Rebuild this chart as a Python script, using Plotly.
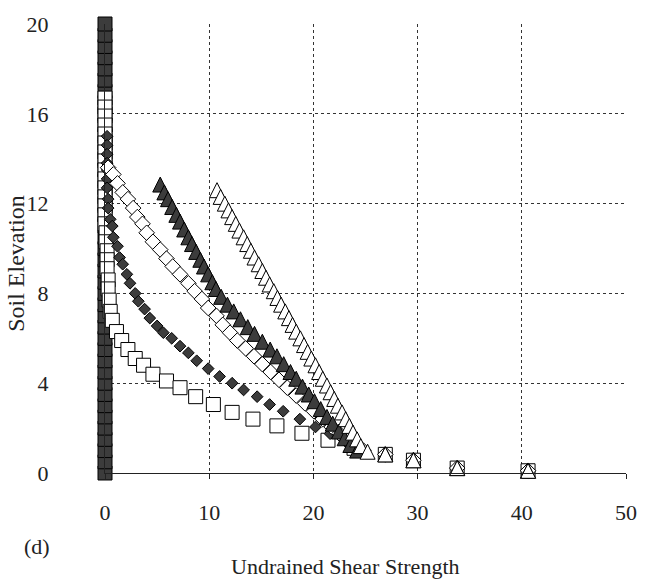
import plotly.graph_objects as go

# ---- data ----
col_x = [0, 0, 0, 0, 0, 0, 0, 0, 0, 0, 0, 0, 0, 0, 0, 0, 0, 0, 0, 0, 0,
         0, 0, 0, 0, 0, 0, 0, 0, 0, 0, 0, 0, 0, 0, 0, 0, 0, 0, 0, 0]
col_y = [0.0, 0.5, 1.0, 1.5, 2.0, 2.5, 3.0, 3.5, 4.0, 4.5, 5.0, 5.5, 6.0, 6.5,
         7.0, 7.5, 8.0, 8.5, 9.0, 9.5, 10.0, 10.5, 11.0, 11.5, 12.0, 12.5,
         13.0, 13.5, 14.0, 14.5, 15.0, 15.5, 16.0, 16.5, 17.0, 17.5, 18.0,
         18.5, 19.0, 19.5, 20.0]

osq_x = [0, 0, 0, 0, 0, 0, 0, 0, 0, 0, 0, 0, 0, 0, 0, 0.1, 0.1, 0.2, 0.2, 0.2,
         0.3, 0.3, 0.4, 0.5, 0.7, 1.1, 1.6, 2.2, 2.9, 3.7, 4.6, 5.9, 7.2, 8.7,
         10.4, 12.2, 14.2, 16.5, 18.9, 21.4, 23.9, 26.9, 29.6, 33.8, 40.6]
osq_y = [16.7, 16.3, 15.9, 15.5, 15.1, 14.7, 14.3, 13.9, 13.5, 13.1, 12.7, 12.3,
         11.9, 11.5, 11.1, 10.7, 10.3, 9.9, 9.5, 9.1, 8.6, 8.2, 7.7, 7.2, 6.8,
         6.3, 5.9, 5.5, 5.1, 4.8, 4.4, 4.1, 3.8, 3.4, 3.05, 2.7, 2.4, 2.1, 1.77,
         1.46, 1.1, 0.83, 0.57, 0.22, 0.1]

fdia_x = [0.2, 0.2, 0.2, 0.2, 0.2, 0.2, 0.2, 0.3, 0.3, 0.5, 0.7, 0.8, 1.2, 1.4,
          1.7, 2.1, 2.4, 2.9, 3.2, 3.8, 4.3, 5.0, 5.6, 6.4, 7.2, 8.0, 8.8, 9.9,
          11.0, 12.2, 13.3, 14.6, 15.8, 17.1, 18.7, 20.2, 21.6, 23.2, 24.8,
          26.9, 29.6, 33.8, 40.6]
fdia_y = [15.0, 14.6, 14.2, 13.8, 13.5, 13.1, 12.7, 12.2, 11.8, 11.3, 11.0, 10.5,
          10.1, 9.6, 9.3, 8.85, 8.45, 8.0, 7.65, 7.3, 6.9, 6.55, 6.25, 6.0, 5.65,
          5.35, 5.0, 4.65, 4.3, 4.0, 3.7, 3.4, 3.05, 2.75, 2.4, 2.05, 1.75, 1.35,
          1.0, 0.83, 0.57, 0.22, 0.1]

odia_x = [0.3, 0.8, 1.2, 1.7, 2.2, 2.7, 3.1, 3.6, 4.0, 4.6, 5.3, 5.9, 6.5, 7.2,
          8.0, 8.6, 9.3, 9.9, 10.7, 11.3, 12.0, 12.7, 13.5, 14.3, 15.1, 15.9,
          16.7, 17.5, 18.35, 19.2, 20.05, 20.9, 21.75, 22.5, 23.25, 23.9, 24.8,
          26.9, 29.6, 33.8, 40.6]
odia_y = [13.6, 13.3, 12.9, 12.5, 12.2, 11.8, 11.4, 11.1, 10.7, 10.3, 9.95, 9.55,
          9.2, 8.85, 8.45, 8.1, 7.75, 7.35, 7.0, 6.6, 6.25, 5.9, 5.55, 5.2, 4.85,
          4.5, 4.15, 3.8, 3.45, 3.1, 2.75, 2.4, 2.05, 1.75, 1.45, 1.2, 1.0, 0.83,
          0.57, 0.22, 0.1]

ftri_x = [5.3, 5.7, 6.05, 6.45, 6.85, 7.2, 7.6, 8.0, 8.35, 8.75, 9.15, 9.5, 9.9,
          10.3, 10.65, 11.15, 11.75, 12.35, 13.0, 13.7, 14.35, 15.1, 15.85, 16.5,
          17.15, 17.8, 18.35, 18.95, 19.55, 20.1, 20.7, 21.3, 21.85, 22.45, 23.0,
          23.55, 24.2, 26.9, 29.6, 33.8, 40.6]
ftri_y = [12.85, 12.5, 12.2, 11.85, 11.5, 11.2, 10.85, 10.5, 10.2, 9.85, 9.5, 9.2,
          8.85, 8.5, 8.2, 7.85, 7.5, 7.2, 6.85, 6.5, 6.2, 5.85, 5.5, 5.2, 4.85,
          4.5, 4.2, 3.85, 3.5, 3.2, 2.85, 2.5, 2.2, 1.85, 1.55, 1.25, 1.0, 0.83,
          0.57, 0.22, 0.1]

otri_x = [10.75, 11.1, 11.5, 11.85, 12.2, 12.55, 12.9, 13.3, 13.65, 14.0, 14.35,
          14.75, 15.1, 15.45, 15.8, 16.2, 16.55, 16.9, 17.3, 17.65, 18.0, 18.35,
          18.75, 19.1, 19.45, 19.8, 20.2, 20.55, 20.9, 21.3, 21.65, 22.0, 22.35,
          22.75, 23.1, 23.45, 23.8, 24.2, 24.55, 25.2, 26.9, 29.6, 33.8, 40.6]
otri_y = [12.6, 12.3, 12.0, 11.7, 11.4, 11.1, 10.8, 10.5, 10.2, 9.9, 9.6, 9.3,
          9.0, 8.7, 8.4, 8.1, 7.8, 7.5, 7.2, 6.9, 6.6, 6.3, 6.0, 5.7, 5.4, 5.1,
          4.8, 4.5, 4.2, 3.9, 3.6, 3.3, 3.0, 2.7, 2.4, 2.1, 1.8, 1.5, 1.2, 0.95,
          0.83, 0.57, 0.22, 0.1]

x_ticks = [0, 10, 20, 30, 40, 50]
y_ticks = [0, 4, 8, 12, 16, 20]

# ---- figure ----
DARK = "#3c3c3c"
FONT = "Liberation Serif"
TRI_SIZE = 15
# arrow-up markers are anchored at their apex; a twin y axis shifted by half
# the marker height keeps the triangle centred on its data value
Y_PX_PER_UNIT = 452 / 20.0
shift = (TRI_SIZE / 2) / Y_PX_PER_UNIT

fig = go.Figure()

def add(x, y, symbol, size, fill, yaxis="y"):
    fig.add_trace(go.Scatter(
        x=x, y=y, mode="markers", yaxis=yaxis, cliponaxis=False,
        marker=dict(symbol=symbol, size=size, color=fill,
                    line=dict(color="black", width=1)),
        showlegend=False, hoverinfo="x+y"))

add(col_x, col_y, "square", 14, DARK)
add(osq_x, osq_y, "square", 14, "white")
add(fdia_x, fdia_y, "diamond", 9, DARK)
add(odia_x, odia_y, "diamond", 12, "white")
add(ftri_x, ftri_y, "arrow-up", TRI_SIZE, DARK, "y2")
add(otri_x, otri_y, "arrow-up", TRI_SIZE, "white", "y2")

fig.update_layout(
    width=652, height=580,
    margin=dict(l=105, r=26, t=21, b=107),
    paper_bgcolor="white", plot_bgcolor="white",
    font=dict(family=FONT, size=22, color="#222222"),
    xaxis=dict(range=[0, 50], tickvals=x_ticks, ticktext=[str(v) for v in x_ticks],
               showgrid=True, gridcolor="#333333", griddash="dot", gridwidth=1,
               zeroline=False, showline=True, linecolor="#222222", linewidth=1,
               ticks="outside", ticklen=5, tickcolor="#222222",
               ticklabelstandoff=15, fixedrange=True),
    yaxis=dict(range=[0, 20], tickvals=y_ticks, ticktext=[str(v) for v in y_ticks],
               showgrid=True, gridcolor="#333333", griddash="dot", gridwidth=1,
               zeroline=False, showline=True, linecolor="#222222", linewidth=1,
               ticks="", ticklabelstandoff=51, fixedrange=True),
    yaxis2=dict(range=[-shift, 20 - shift], overlaying="y", visible=False,
                fixedrange=True),
    annotations=[
        dict(text="Undrained Shear Strength", xref="paper", yref="paper",
             x=0.4607, y=-0.208, showarrow=False, xanchor="center", yanchor="middle",
             font=dict(size=22)),
        dict(text="Soil Elevation", xref="paper", yref="paper",
             x=-0.17, y=0.4668, showarrow=False, textangle=-90,
             xanchor="center", yanchor="middle", font=dict(size=24)),
        dict(text="(d)", xref="paper", yref="paper",
             x=-0.1305, y=-0.1637, showarrow=False, xanchor="center",
             yanchor="middle", font=dict(size=22)),
    ],
)

fig.write_html("out.html")
